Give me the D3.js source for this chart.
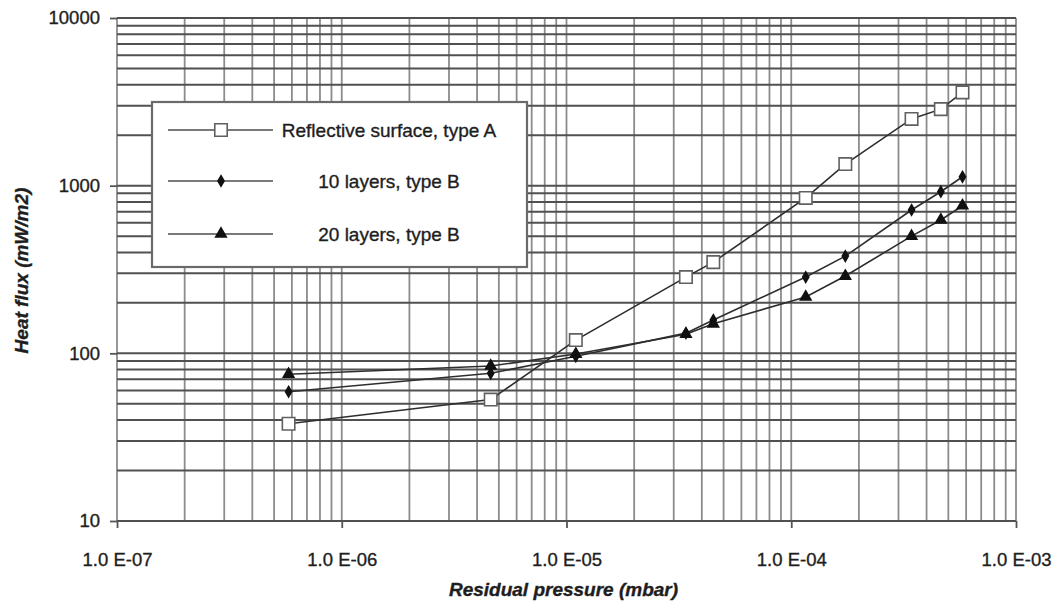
<!DOCTYPE html>
<html>
<head>
<meta charset="utf-8">
<script src="https://cdn.jsdelivr.net/npm/d3@7"></script>
<style>
    body { margin: 0; background: #fff; }
    text { font-family: "Liberation Sans", Arial, sans-serif; fill: #1e1e1e; stroke: #1e1e1e; stroke-width: 0.35px; }
</style>
</head>
<body>
<svg id="chart" width="1060" height="613"></svg>
<script>
// values
const pressure = [5.8e-7, 4.6e-6, 1.1e-5, 3.4e-5, 4.5e-5, 1.16e-4, 1.74e-4, 3.43e-4, 4.63e-4, 5.78e-4];
const reflectiveA = [38, 53, 120, 285, 350, 845, 1345, 2500, 2860, 3600];
const layers10B = [59, 76, 96, 132, 158, 285, 380, 716, 920, 1130];
const layers20B = [75, 84, 99, 130, 150, 217, 289, 500, 624, 759];
const seriesNames = ['Reflective surface, type A', '10 layers, type B', '20 layers, type B'];
const xTickValues = [1e-7, 1e-6, 1e-5, 1e-4, 1e-3];
const xTickLabels = ['1.0 E-07', '1.0 E-06', '1.0 E-05', '1.0 E-04', '1.0 E-03'];
const yTickValues = [10, 100, 1000, 10000];
const yTickLabels = ['10', '100', '1000', '10000'];

const margin = { top: 18, right: 44, bottom: 92, left: 117 };
const svg = d3.select('#chart');
const width = +svg.attr('width') - margin.left - margin.right;
const height = +svg.attr('height') - margin.top - margin.bottom;

const x = d3.scaleLog().domain([1e-7, 1e-3]).range([0, width]);
const y = d3.scaleLog().domain([10, 10000]).range([height, 0]);

const g = svg.append('g').attr('transform', `translate(${margin.left},${margin.top})`);

// log grid, verticals lighter than horizontals like the scan
g.append('g').attr('class', 'grid-x')
    .selectAll('line')
    .data(x.ticks())
    .join('line')
    .attr('x1', d => x(d)).attr('x2', d => x(d))
    .attr('y1', 0).attr('y2', height)
    .attr('stroke', '#8c8c8c')
    .attr('stroke-width', 1.8);

g.append('g').attr('class', 'grid-y')
    .selectAll('line')
    .data(y.ticks())
    .join('line')
    .attr('x1', 0).attr('x2', width)
    .attr('y1', d => y(d)).attr('y2', d => y(d))
    .attr('stroke', '#505050')
    .attr('stroke-width', 2);

const xAxis = d3.axisBottom(x)
    .tickValues(xTickValues)
    .tickFormat((d, i) => xTickLabels[i])
    .tickSize(7)
    .tickPadding(25);

const yAxis = d3.axisLeft(y)
    .tickValues(yTickValues)
    .tickFormat((d, i) => yTickLabels[i])
    .tickSize(7)
    .tickPadding(10);

const xG = g.append('g').attr('transform', `translate(0,${height})`).call(xAxis);
const yG = g.append('g').call(yAxis);
[xG, yG].forEach((a) => {
    a.select('.domain').remove();
    a.selectAll('line').attr('stroke', '#555').attr('stroke-width', 1.8);
    a.selectAll('text')
        .style('font-family', '"Liberation Sans", Arial, sans-serif')
        .style('font-size', '18.5px')
        .attr('fill', '#1e1e1e');
});

// axis titles
g.append('text')
    .attr('x', width / 2 - 3)
    .attr('y', height + 75)
    .attr('text-anchor', 'middle')
    .style('font-size', '19px')
    .style('font-weight', 'bold')
    .style('font-style', 'italic')
    .text('Residual pressure (mbar)');

g.append('text')
    .attr('transform', `translate(${22 - margin.left + 6},${height / 2 + 1}) rotate(-90)`)
    .attr('text-anchor', 'middle')
    .style('font-size', '19px')
    .style('font-weight', 'bold')
    .style('font-style', 'italic')
    .text('Heat flux (mW/m2)');

// series
const series = [
    { name: seriesNames[0], values: reflectiveA, symbol: d3.symbolSquare, size: 155, fill: '#fff', stroke: '#606060' },
    { name: seriesNames[1], values: layers10B, symbol: d3.symbolDiamond, size: 32, fill: '#111', stroke: '#111' },
    { name: seriesNames[2], values: layers20B, symbol: d3.symbolTriangle, size: 48, fill: '#111', stroke: '#111' },
];

const line = d3.line()
    .x(d => x(d[0]))
    .y(d => y(d[1]));

series.forEach((s) => {
    const pts = pressure.map((p, i) => [p, s.values[i]]);
    g.append('path')
        .datum(pts)
        .attr('fill', 'none')
        .attr('stroke', '#2e2e2e')
        .attr('stroke-width', 1.6)
        .attr('d', line);
    g.append('g')
        .selectAll('path')
        .data(pts)
        .join('path')
        .attr('transform', d => `translate(${x(d[0])},${y(d[1])})`)
        .attr('d', d3.symbol(s.symbol, s.size))
        .attr('fill', s.fill)
        .attr('stroke', s.stroke)
        .attr('stroke-width', 1.6);
});

// legend
const legend = svg.append('g').attr('transform', 'translate(152,102)');
legend.append('rect')
    .attr('width', 375)
    .attr('height', 165)
    .attr('fill', '#fff')
    .attr('stroke', '#6a6a6a')
    .attr('stroke-width', 2.2);

const rowY = [28, 79, 132];
series.forEach((s, i) => {
    const row = legend.append('g').attr('transform', `translate(0,${rowY[i]})`);
    row.append('line')
        .attr('x1', 16).attr('x2', 121)
        .attr('stroke', '#7a7a7a')
        .attr('stroke-width', 2.2);
    row.append('path')
        .attr('transform', 'translate(69,0)')
        .attr('d', d3.symbol(s.symbol, s.size))
        .attr('fill', s.fill)
        .attr('stroke', s.stroke)
        .attr('stroke-width', 1.6);
    row.append('text')
        .attr('x', 237)
        .attr('dy', '0.35em')
        .attr('text-anchor', 'middle')
        .style('font-size', '19px')
        .text(s.name);
});
</script>
</body>
</html>
